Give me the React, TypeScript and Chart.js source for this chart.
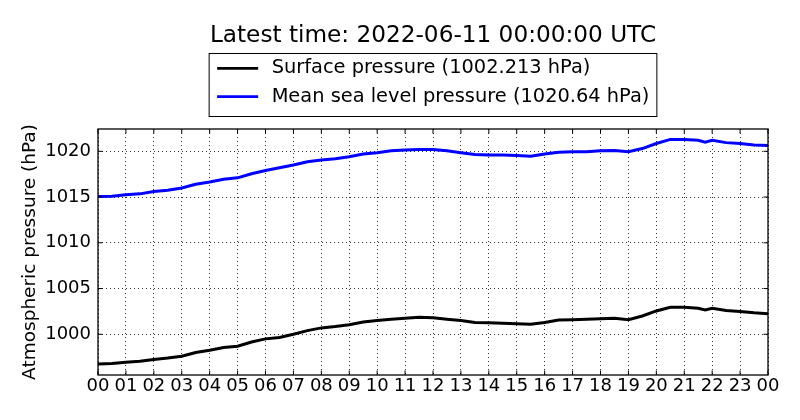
import React, { useEffect, useRef } from "react";
import { Chart, registerables } from "chart.js";

Chart.register(...registerables);

const TITLE = "Latest time: 2022-06-11 00:00:00 UTC";
const Y_LABEL = "Atmospheric pressure (hPa)";

const HOURS = [
  0, 0.5, 1, 1.5, 2, 2.5, 3, 3.5, 4, 4.5, 5, 5.5, 6, 6.5, 7, 7.5, 8, 8.5, 9, 9.5,
  10, 10.5, 11, 11.5, 12, 12.5, 13, 13.5, 14, 14.5, 15, 15.5, 16, 16.5, 17, 17.5,
  18, 18.5, 19, 19.5, 20, 20.5, 21, 21.5, 21.75, 22, 22.5, 23, 23.5, 24,
];

const SURFACE = [
  996.75, 996.8, 996.95, 997.05, 997.25, 997.4, 997.6, 998.0, 998.25, 998.55,
  998.7, 999.15, 999.5, 999.65, 1000.0, 1000.4, 1000.7, 1000.85, 1001.05, 1001.35,
  1001.5, 1001.65, 1001.75, 1001.85, 1001.8, 1001.65, 1001.5, 1001.3, 1001.25, 1001.2,
  1001.15, 1001.1, 1001.3, 1001.55, 1001.6, 1001.65, 1001.7, 1001.75, 1001.6, 1002.0,
  1002.55, 1002.95, 1002.95, 1002.85, 1002.65, 1002.85, 1002.6, 1002.5, 1002.35, 1002.25,
];

const MSL = [
  1015.05, 1015.1, 1015.25, 1015.35, 1015.6, 1015.75, 1016.0, 1016.4, 1016.65, 1016.95,
  1017.1, 1017.55, 1017.9, 1018.2, 1018.5, 1018.85, 1019.05, 1019.2, 1019.4, 1019.7,
  1019.85, 1020.05, 1020.15, 1020.2, 1020.2, 1020.05, 1019.85, 1019.65, 1019.6, 1019.6,
  1019.55, 1019.45, 1019.7, 1019.9, 1019.95, 1019.95, 1020.05, 1020.1, 1019.95, 1020.3,
  1020.85, 1021.3, 1021.3, 1021.2, 1021.0, 1021.2, 1020.95, 1020.85, 1020.7, 1020.64,
];

const SERIES_LABELS = [
  "Surface pressure (1002.213 hPa)",
  "Mean sea level pressure (1020.64 hPa)",
];
const SERIES_COLORS = ["#000000", "#0000ff"];

const X_TICKS = [0, 1, 2, 3, 4, 5, 6, 7, 8, 9, 10, 11, 12, 13, 14, 15, 16, 17, 18, 19, 20, 21, 22, 23, 24];
const X_TICK_LABELS = [
  "00", "01", "02", "03", "04", "05", "06", "07", "08", "09", "10", "11", "12",
  "13", "14", "15", "16", "17", "18", "19", "20", "21", "22", "23", "00",
];
const Y_TICKS = [1000, 1005, 1010, 1015, 1020];
const Y_MIN = 995.55;
const Y_MAX = 1022.44;

const FONT = "'DejaVu Sans', sans-serif";
const TICK_SIZE = 18;
const YLABEL_SIZE = 18.5;
const LEGEND_SIZE = 19.4;
const TITLE_SIZE = 23.2;

const decorPlugin = {
  id: "decor",
  afterDatasetsDraw(chart: any) {
    const { ctx, chartArea: a, scales } = chart;
    ctx.save();
    ctx.strokeStyle = "#000";
    ctx.lineWidth = 1.3;
    ctx.strokeRect(a.left, a.top, a.right - a.left, a.bottom - a.top);
    const L = 4.5;
    ctx.lineWidth = 1;
    ctx.beginPath();
    for (const v of X_TICKS) {
      const x = scales.x.getPixelForValue(v);
      ctx.moveTo(x, a.top);
      ctx.lineTo(x, a.top + L);
      ctx.moveTo(x, a.bottom);
      ctx.lineTo(x, a.bottom - L);
    }
    for (const v of Y_TICKS) {
      const y = scales.y.getPixelForValue(v);
      ctx.moveTo(a.left, y);
      ctx.lineTo(a.left + L, y);
      ctx.moveTo(a.right, y);
      ctx.lineTo(a.right - L, y);
    }
    ctx.stroke();
    ctx.restore();
  },
  afterDraw(chart: any) {
    const { ctx, chartArea: a } = chart;
    const cx = (a.left + a.right) / 2;
    ctx.save();
    ctx.fillStyle = "#000";
    ctx.font = `${TITLE_SIZE}px ${FONT}`;
    ctx.textAlign = "center";
    ctx.textBaseline = "alphabetic";
    ctx.fillText(TITLE, cx, 42);
    ctx.font = `${LEGEND_SIZE}px ${FONT}`;
    const ds = chart.data.datasets;
    const tw = Math.max(...ds.map((d: any) => ctx.measureText(d.label).width));
    const w = 8 + 41 + 14 + tw + 7;
    const left = cx - w / 2;
    const top = 53.5;
    const h = 63;
    ctx.fillStyle = "#fff";
    ctx.fillRect(left, top, w, h);
    ctx.strokeStyle = "#000";
    ctx.lineWidth = 1;
    ctx.strokeRect(left, top, w, h);
    ds.forEach((d: any, i: number) => {
      const y = 68.3 + i * 28.4;
      ctx.strokeStyle = d.borderColor;
      ctx.lineWidth = 2.8;
      ctx.beginPath();
      ctx.moveTo(left + 8, y);
      ctx.lineTo(left + 49, y);
      ctx.stroke();
      ctx.fillStyle = "#000";
      ctx.textAlign = "left";
      ctx.textBaseline = "middle";
      ctx.fillText(d.label, left + 62.5, y);
    });
    ctx.restore();
  },
};

export default function App() {
  const ref = useRef<HTMLCanvasElement | null>(null);
  useEffect(() => {
    if (!ref.current) return;
    const mk = (vals: number[]) => HOURS.map((h, i) => ({ x: h, y: vals[i] }));
    const chart = new Chart(ref.current, {
      type: "line",
      data: {
        datasets: [
          {
            label: SERIES_LABELS[0],
            data: mk(SURFACE),
            borderColor: SERIES_COLORS[0],
            backgroundColor: SERIES_COLORS[0],
            borderWidth: 3,
            pointRadius: 0,
            tension: 0,
            fill: false,
          },
          {
            label: SERIES_LABELS[1],
            data: mk(MSL),
            borderColor: SERIES_COLORS[1],
            backgroundColor: SERIES_COLORS[1],
            borderWidth: 3,
            pointRadius: 0,
            tension: 0,
            fill: false,
          },
        ],
      },
      plugins: [decorPlugin],
      options: {
        responsive: false,
        animation: false,
        devicePixelRatio: 1,
        layout: { padding: { top: 129, left: 0, right: 32, bottom: 0 } },
        plugins: {
          legend: { display: false },
          title: { display: false },
          tooltip: { enabled: false },
        },
        scales: {
          x: {
            type: "linear",
            min: 0,
            max: 24,
            afterBuildTicks: (scale: any) => {
              scale.ticks = X_TICKS.map((v) => ({ value: v }));
            },
            afterFit: (scale: any) => {
              scale.height = 45;
            },
            ticks: {
              autoSkip: false,
              maxRotation: 0,
              padding: 1,
              color: "#000",
              font: { family: FONT, size: TICK_SIZE },
              callback: (_v: any, i: number) => X_TICK_LABELS[i],
            },
            grid: {
              color: "rgba(0,0,0,0.8)",
              lineWidth: 1,
              drawTicks: false,
            },
            border: { display: false, dash: [1, 3] },
          },
          y: {
            type: "linear",
            min: Y_MIN,
            max: Y_MAX,
            afterBuildTicks: (scale: any) => {
              scale.ticks = Y_TICKS.map((v) => ({ value: v }));
            },
            afterFit: (scale: any) => {
              scale.width = 98;
            },
            ticks: {
              padding: 7,
              color: "#000",
              font: { family: FONT, size: TICK_SIZE },
              callback: (v: any) => String(v),
            },
            grid: {
              color: "rgba(0,0,0,0.8)",
              lineWidth: 1,
              drawTicks: false,
            },
            border: { display: false, dash: [1, 3] },
            title: {
              display: true,
              text: Y_LABEL,
              color: "#000",
              font: { family: FONT, size: YLABEL_SIZE },
              padding: { top: 19, bottom: 0 },
            },
          },
        },
      },
    });
    return () => chart.destroy();
  }, []);
  return (
    <div style={{ position: "fixed", left: 0, top: 0, width: 800, height: 420, background: "#fff" }}>
      <canvas ref={ref} width={800} height={420} />
    </div>
  );
}
